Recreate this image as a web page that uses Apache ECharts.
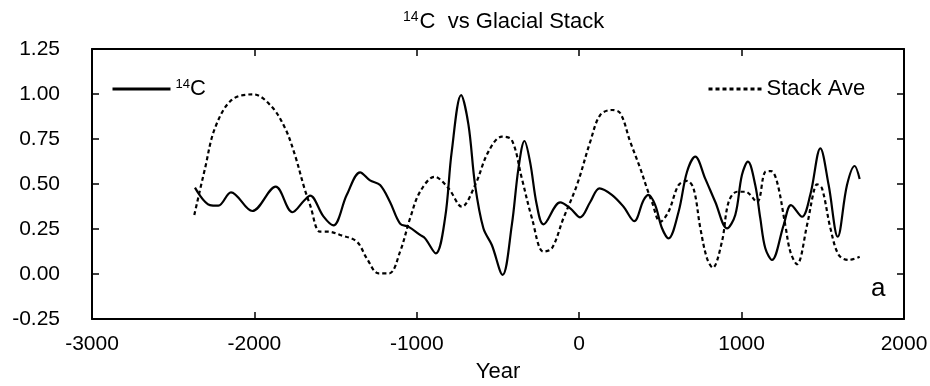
<!DOCTYPE html>
<html>
<head>
<meta charset="utf-8">
<script src="https://cdn.jsdelivr.net/npm/echarts@6/dist/echarts.min.js"></script>
<style>
  html, body { margin: 0; padding: 0; background: #fff; }
  #chart { width: 930px; height: 386px; }
</style>
</head>
<body>
<div id="chart"></div>
<script>
// 14C 曲线 (实线)
const years14C = [-2366, -2274, -2222, -2144, -2013, -1869, -1766, -1692, -1657, -1575, -1514, -1431, -1349, -1288,
    -1226, -1165, -1103, -1052, -980, -949, -883, -826, -785, -727, -682, -641, -590, -538, -472, -415, -374,
    -337, -302, -261, -220, -117, -55, 6, 68, 125, 201, 273, 339, 396, 427, 468, 510, 550, 612, 664, 715,
    776, 838, 910, 961, 1002, 1039, 1084, 1115, 1146, 1187, 1259, 1304, 1372, 1423, 1485, 1536, 1592, 1649,
    1696, 1727];
const values14C = [0.48, 0.383, 0.38, 0.454, 0.35, 0.485, 0.343, 0.41, 0.435, 0.32, 0.27, 0.44, 0.565, 0.52,
    0.494, 0.40, 0.28, 0.263, 0.217, 0.198, 0.115, 0.31, 0.68, 0.994, 0.83, 0.494, 0.254, 0.161, -0.005, 0.272, 0.587,
    0.739, 0.62, 0.383, 0.276, 0.398, 0.365, 0.315, 0.40, 0.476, 0.44, 0.374, 0.294, 0.41, 0.44, 0.383, 0.254, 0.198, 0.346, 0.568, 0.652,
    0.53, 0.40, 0.254, 0.328, 0.55, 0.624, 0.494, 0.31, 0.143, 0.078, 0.272, 0.383, 0.318, 0.44, 0.698, 0.494, 0.207, 0.494,
    0.60, 0.528];

// Stack Ave 曲线 (虚线)
const yearsStack = [-2370, -2304, -2243, -2140, -2006, -1894, -1811, -1750, -1692, -1657, -1596, -1545, -1473, -1370,
    -1308, -1236, -1169, -1103, -1041, -980, -891, -805, -723, -641, -559, -476, -415, -353, -291, -220, -168,
    -97, -14, 68, 129, 201, 253, 314, 376, 417, 448, 499, 550, 612, 664, 704, 746, 787, 822, 879, 920, 972,
    1023, 1095, 1146, 1181, 1218, 1269, 1300, 1341, 1403, 1444, 1464, 1495, 1547, 1598, 1659, 1727];
const valuesStack = [0.328, 0.587, 0.81, 0.967, 0.998, 0.93, 0.81, 0.66, 0.476, 0.383, 0.235, 0.235, 0.217, 0.18,
    0.087, 0.004, 0.004, 0.124, 0.31, 0.457, 0.54, 0.476, 0.374, 0.494, 0.68, 0.763, 0.744, 0.53, 0.31, 0.124, 0.143,
    0.31, 0.494, 0.735, 0.883, 0.911, 0.893, 0.735, 0.587, 0.476, 0.40, 0.29, 0.346, 0.494, 0.517, 0.476, 0.254, 0.087, 0.035, 0.18, 0.40, 0.457,
    0.457, 0.40, 0.568, 0.572, 0.513, 0.272, 0.124, 0.054, 0.272, 0.457, 0.498, 0.476, 0.254, 0.106, 0.078, 0.096];

const xTicks = { min: -3000, max: 2000, interval: 1000 };
const yTicks = { min: -0.25, max: 1.25, interval: 0.25 };

const FONT = '"Liberation Sans", Arial, sans-serif';

const chart = echarts.init(document.getElementById('chart'), null, { renderer: 'canvas' });

const axisLine = { show: true, onZero: false, lineStyle: { color: '#000', width: 2 } };
const axisTick = { show: true, inside: true, length: 7, lineStyle: { color: '#000', width: 1.5 } };

const option = {
    backgroundColor: '#fff',
    animation: false,
    title: {
        text: '{sup|14}{t|C  vs Glacial Stack}',
        left: 398,
        top: 5,
        textStyle: {
            fontWeight: 'normal',
            rich: {
                sup: { fontFamily: FONT, fontSize: 14, fontWeight: 'normal', color: '#000', verticalAlign: 'top', padding: [0, 1, 10, 0] },
                t: { fontFamily: FONT, fontSize: 22, fontWeight: 'normal', color: '#000' }
            }
        }
    },
    legend: [{
        data: ['14C'],
        left: 106,
        top: 73,
        itemWidth: 58,
        itemHeight: 14,
        itemGap: 4,
        itemStyle: { color: 'transparent', borderWidth: 0 },
        lineStyle: { width: 3 },
        formatter: () => '{sup|14}{n|C}',
        textStyle: {
            rich: {
                sup: { fontFamily: FONT, fontSize: 13, color: '#000', verticalAlign: 'top', padding: [0, 0, 9, 0] },
                n: { fontFamily: FONT, fontSize: 22, color: '#000' }
            }
        }
    }, {
        data: ['Stack Ave'],
        left: 702,
        top: 73,
        itemWidth: 56,
        itemHeight: 14,
        itemStyle: { color: 'transparent', borderWidth: 0 },
        lineStyle: { width: 3 },
        textStyle: { fontFamily: FONT, fontSize: 22, color: '#000', padding: [0, 0, 0, -3] }
    }],
    grid: { left: 92, right: 26, top: 49, bottom: 67, containLabel: false, outerBoundsMode: 'none' },
    xAxis: [{
        type: 'value',
        min: xTicks.min, max: xTicks.max, interval: xTicks.interval,
        position: 'bottom',
        name: 'Year',
        nameLocation: 'middle',
        nameGap: 42,
        nameTextStyle: { fontFamily: FONT, fontSize: 22, color: '#000' },
        axisLine, axisTick,
        axisLabel: { fontFamily: FONT, fontSize: 21, color: '#000', margin: 15, formatter: v => String(v) },
        splitLine: { show: false }
    }, {
        type: 'value',
        min: xTicks.min, max: xTicks.max, interval: xTicks.interval,
        position: 'top',
        axisLine, axisTick,
        axisLabel: { show: false },
        splitLine: { show: false }
    }],
    yAxis: [{
        type: 'value',
        min: yTicks.min, max: yTicks.max, interval: yTicks.interval,
        position: 'left',
        axisLine, axisTick,
        axisLabel: {
            fontFamily: FONT, fontSize: 21, color: '#000', margin: 32,
            formatter: v => v.toFixed(2)
        },
        splitLine: { show: false }
    }, {
        type: 'value',
        min: yTicks.min, max: yTicks.max, interval: yTicks.interval,
        position: 'right',
        axisLine, axisTick,
        axisLabel: { show: false },
        splitLine: { show: false }
    }],
    graphic: [{
        type: 'text',
        left: 871,
        top: 276,
        style: { text: 'a', font: '26px ' + FONT, fill: '#000' }
    }],
    series: [{
        name: '14C',
        type: 'line',
        data: years14C.map((y, i) => [y, values14C[i]]),
        smooth: 0.35,
        symbol: 'none',
        lineStyle: { color: '#000', width: 2.2 },
        itemStyle: { color: '#000' }
    }, {
        name: 'Stack Ave',
        type: 'line',
        data: yearsStack.map((y, i) => [y, valuesStack[i]]),
        smooth: 0.35,
        symbol: 'none',
        lineStyle: { color: '#000', width: 2.2, type: [4, 3] },
        itemStyle: { color: '#000' }
    }]
};

chart.setOption(option);
</script>
</body>
</html>
